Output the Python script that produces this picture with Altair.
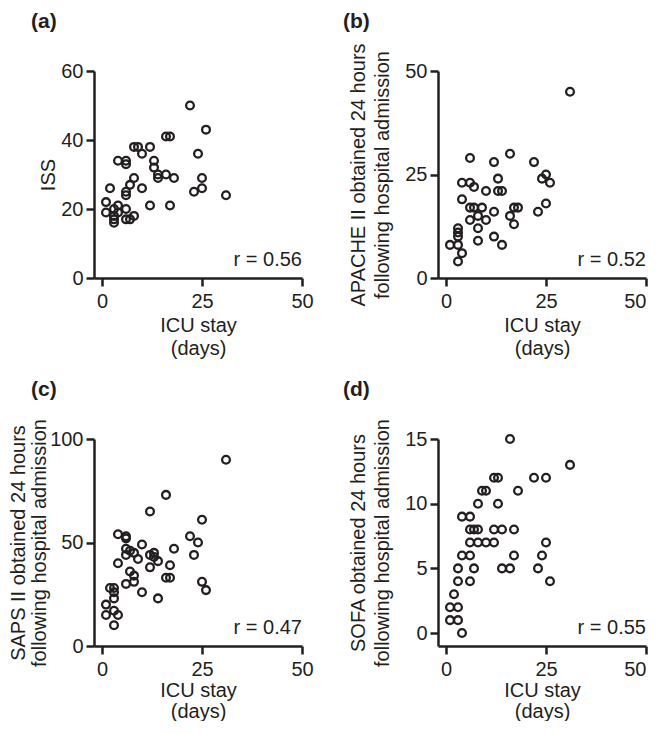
import altair as alt
import pandas as pd

# ---- data ----
a_icu = [22, 26, 16, 17, 8, 9, 12, 10, 4, 6, 6, 13, 13, 24, 14, 14, 16, 18, 25, 25,
         23, 31, 12, 17, 10, 8, 7, 6, 6, 2, 1, 1, 4, 3, 6, 3, 3, 3, 6, 7, 8, 4]
a_iss = [50, 43, 41, 41, 38, 38, 38, 36, 34, 34, 33, 34, 32, 36, 30, 29, 30, 29, 29, 26,
         25, 24, 21, 21, 26, 29, 27, 25, 24, 26, 22, 19, 21, 20, 20, 18, 17, 16, 17, 17, 18, 19]

b_icu = [31, 16, 6, 12, 22, 25, 24, 26, 13, 4, 6, 7, 10, 13, 14, 4, 25, 6, 7, 9,
         17, 18, 23, 12, 6, 8, 10, 16, 17, 8, 8, 12, 14, 3, 3, 3, 1, 3, 4, 3]
b_apache = [45, 30, 29, 28, 28, 25, 24, 23, 24, 23, 23, 22, 21, 21, 21, 19, 18, 17, 17, 17,
            17, 17, 16, 16, 14, 15, 14, 15, 13, 12, 9, 10, 8, 12, 11, 10, 8, 8, 6, 4]

c_icu = [31, 16, 12, 25, 4, 6, 6, 10, 22, 24, 23, 18, 6, 6, 7, 8, 9, 4, 12, 13,
         12, 14, 13, 17, 16, 17, 7, 8, 8, 6, 10, 14, 25, 26, 2, 3, 3, 3, 1, 1, 3, 4, 3]
c_saps = [90, 73, 65, 61, 54, 53, 52, 49, 53, 50, 44, 47, 47, 44, 46, 45, 42, 40, 44, 45,
          38, 41, 43, 39, 33, 33, 36, 34, 31, 30, 26, 23, 31, 27, 28, 28, 26, 23, 20, 15, 17, 15, 10]

d_icu = [16, 31, 12, 13, 22, 25, 9, 10, 18, 8, 13, 4, 6, 6, 7, 8, 12, 14, 17, 6,
         8, 10, 12, 25, 4, 6, 17, 24, 3, 7, 14, 16, 23, 3, 6, 26, 2, 1, 3, 1, 3, 4]
d_sofa = [15, 13, 12, 12, 12, 12, 11, 11, 11, 10, 10, 9, 9, 8, 8, 8, 8, 8, 8, 7,
          7, 7, 7, 7, 6, 6, 6, 6, 5, 5, 5, 5, 5, 4, 4, 4, 3, 2, 2, 1, 1, 0]

x_ticks = [0, 25, 50]
letters = ["(a)", "(b)", "(c)", "(d)"]
r_labels = ["r = 0.56", "r = 0.52", "r = 0.47", "r = 0.55"]
y_titles = [
    "ISS",
    ["APACHE II obtained 24 hours", "following hospital admission"],
    ["SAPS II obtained 24 hours", "following hospital admission"],
    ["SOFA obtained 24 hours", "following hospital admission"],
]
y_domains = [[0, 60], [0, 50], [0, 100], [-1, 15]]
y_ticks = [[0, 20, 40, 60], [0, 25, 50], [0, 50, 100], [0, 5, 10, 15]]

FONT = "Liberation Sans"
INK = "#231f20"
W = 208
H = 207

# per-panel layout tweaks
title_pad = [2, 12, 0, 12]
title_lh = [24, 24, 21, 24]
letter_dx = [-63, -95, -63, -95]
letter_top = [-60, -60, -60, -60]
x_flush = [False, True, False, True]
x_title_pad = [4, 4, 1, 1]
x_title_lh = [23, 23, 21, 21]


def panel(days, vals, i):
    df = pd.DataFrame({"days": days, "score": vals})
    pts = alt.Chart(df).mark_point(
        shape="circle", filled=False, size=60, strokeWidth=2.3, color=INK, opacity=1
    ).encode(
        x=alt.X("days:Q",
                scale=alt.Scale(domain=[-2, 50], nice=False, zero=False),
                axis=alt.Axis(values=x_ticks, title=["ICU stay", "(days)"],
                              titleLineHeight=x_title_lh[i], titlePadding=x_title_pad[i],
                              labelFlush=x_flush[i])),
        y=alt.Y("score:Q",
                scale=alt.Scale(domain=y_domains[i], nice=False, zero=False),
                axis=alt.Axis(values=y_ticks[i], title=y_titles[i],
                              titleLineHeight=title_lh[i], titlePadding=title_pad[i])),
    )
    txt = alt.Chart(pd.DataFrame({"t": [r_labels[i]]})).mark_text(
        align="right", baseline="alphabetic", fontSize=20, font=FONT, color=INK
    ).encode(x=alt.value(W), y=alt.value(H - 12), text="t:N")
    lab = alt.Chart(pd.DataFrame({"t": [letters[i]]})).mark_text(
        align="left", baseline="top", fontSize=21, fontWeight="bold",
        font=FONT, color=INK
    ).encode(x=alt.value(letter_dx[i]), y=alt.value(letter_top[i]), text="t:N")
    return alt.layer(pts, txt, lab).properties(width=W, height=H)


charts = [
    panel(a_icu, a_iss, 0),
    panel(b_icu, b_apache, 1),
    panel(c_icu, c_saps, 2),
    panel(d_icu, d_sofa, 3),
]

chart = alt.concat(*charts, columns=2, spacing={"row": 161, "column": 136}).properties(
    bounds="flush", padding={"top": 3, "left": 0, "right": 0, "bottom": 0}
).configure_view(stroke=None).configure_axis(
    grid=False, labelFlush=False,
    domainColor=INK, domainWidth=2.5,
    tickColor=INK, tickWidth=2.5, tickSize=8,
    labelFont=FONT, labelFontSize=20, labelColor=INK, labelPadding=3,
    titleFont=FONT, titleFontSize=20, titleFontWeight="normal", titleColor=INK,
).configure_axisX(labelPadding=5)

chart.save("out.html", embed_options={"renderer": "svg", "actions": False})
